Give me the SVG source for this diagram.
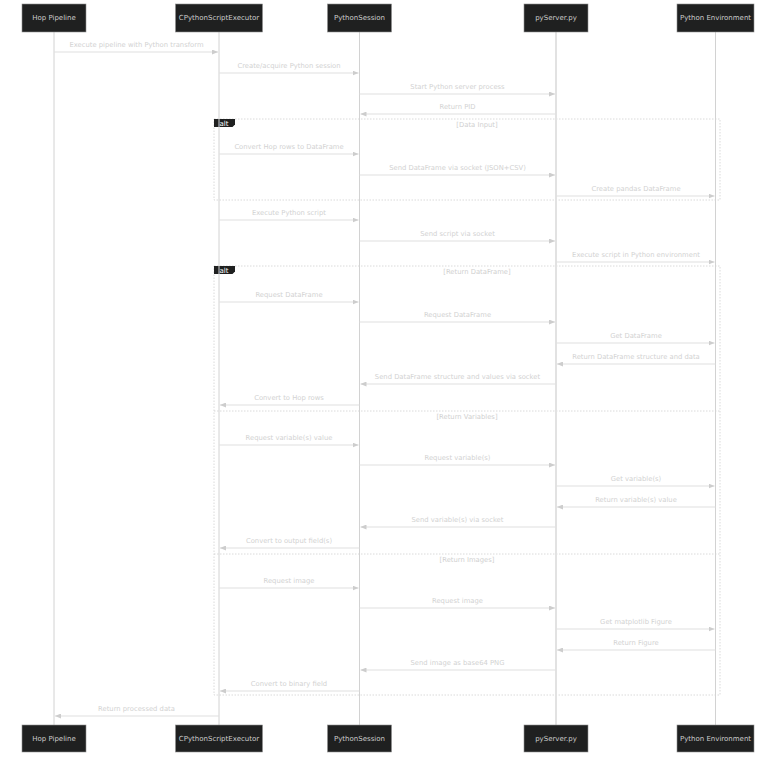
<svg xmlns="http://www.w3.org/2000/svg" width="784" height="766" viewBox="0 0 784 766">
<style>
text{font-family:"DejaVu Sans","Liberation Sans",sans-serif}
.actor rect{fill:#1f2020;stroke:#8f8f8f;stroke-width:0.6}
.actor text{fill:#cccccc;font-size:7px;text-anchor:middle;dominant-baseline:central}
.life{stroke:#d2d2d2;stroke-width:1}
.msg line{stroke:#e0e0e0;stroke-width:1.2;marker-end:url(#ah)}
.msg text{fill:#d2d2d2;font-size:6.8px;text-anchor:middle}
.frame{fill:none;stroke:#d0d0d0;stroke-width:0.8;stroke-dasharray:1.5 1.5}
.sect{fill:#d0d0d0;font-size:6.8px;text-anchor:middle}
.lbl{fill:#1f2020}
.lblt{fill:#ffffff;font-size:7px;text-anchor:middle}
</style>
<defs>
<marker id="ah" markerUnits="userSpaceOnUse" markerWidth="6" markerHeight="5" refX="6" refY="2.5" orient="auto">
<path d="M0,0 L6,2.5 L0,5 z" fill="#cdcdcd"/>
</marker>
</defs>
<rect width="784" height="766" fill="#ffffff"/>

<g id="frames">
<rect class="frame" x="214" y="119" width="506" height="81"/>
<polygon class="lbl" points="214,119 235,119 235,124.5 232.5,127 214,127"/>
<text class="lblt" x="224" y="125.5">alt</text>
<text class="sect" x="477" y="126.5">[Data Input]</text>

<rect class="frame" x="214" y="266" width="506" height="429"/>
<polygon class="lbl" points="214,266 235,266 235,271.5 232.5,274 214,274"/>
<text class="lblt" x="224" y="272.5">alt</text>
<text class="sect" x="477" y="273.5">[Return DataFrame]</text>
<line class="frame" x1="214" y1="411" x2="720" y2="411"/>
<text class="sect" x="467" y="418.5">[Return Variables]</text>
<line class="frame" x1="214" y1="554" x2="720" y2="554"/>
<text class="sect" x="467" y="561.5">[Return Images]</text>
</g>

<g id="hop" class="actor">
<line class="life" x1="54" y1="32" x2="54" y2="725"/>
<rect x="22" y="4" width="64" height="28"/>
<text x="54" y="18">Hop Pipeline</text>
<rect x="22" y="725" width="64" height="27"/>
<text x="54" y="738.5">Hop Pipeline</text>
</g>
<g id="executor" class="actor">
<line class="life" x1="219" y1="32" x2="219" y2="725"/>
<rect x="175.5" y="4" width="87" height="28"/>
<text x="219" y="18">CPythonScriptExecutor</text>
<rect x="175.5" y="725" width="87" height="27"/>
<text x="219" y="738.5">CPythonScriptExecutor</text>
</g>
<g id="session" class="actor">
<line class="life" x1="359.5" y1="32" x2="359.5" y2="725"/>
<rect x="327.5" y="4" width="64" height="28"/>
<text x="359.5" y="18">PythonSession</text>
<rect x="327.5" y="725" width="64" height="27"/>
<text x="359.5" y="738.5">PythonSession</text>
</g>
<g id="pyserver" class="actor">
<line x1="556" y1="32" x2="556" y2="725" stroke="#e2e2e2" stroke-width="2"/>
<rect x="524" y="4" width="64" height="28"/>
<text x="556" y="18">pyServer.py</text>
<rect x="524" y="725" width="64" height="27"/>
<text x="556" y="738.5">pyServer.py</text>
</g>
<g id="pyenv" class="actor">
<line class="life" x1="715.5" y1="32" x2="715.5" y2="725"/>
<rect x="677" y="4" width="77" height="28"/>
<text x="715.5" y="18">Python Environment</text>
<rect x="677" y="725" width="77" height="27"/>
<text x="715.5" y="738.5">Python Environment</text>
</g>

<g id="connectors" class="msg">
<line x1="54" y1="52" x2="218" y2="52"/><text x="136.5" y="46.5">Execute pipeline with Python transform</text>
<line x1="219" y1="73" x2="358.5" y2="73"/><text x="289" y="67.5">Create/acquire Python session</text>
<line x1="359.5" y1="94" x2="555" y2="94"/><text x="457.5" y="88.5">Start Python server process</text>
<line x1="556" y1="114" x2="360.5" y2="114"/><text x="457.5" y="108.5">Return PID</text>
<line x1="219" y1="154" x2="358.5" y2="154"/><text x="289" y="148.5">Convert Hop rows to DataFrame</text>
<line x1="359.5" y1="175" x2="555" y2="175"/><text x="457.5" y="169.5">Send DataFrame via socket (JSON+CSV)</text>
<line x1="556" y1="196" x2="714.5" y2="196"/><text x="636" y="190.5">Create pandas DataFrame</text>
<line x1="219" y1="220" x2="358.5" y2="220"/><text x="289" y="214.5">Execute Python script</text>
<line x1="359.5" y1="241" x2="555" y2="241"/><text x="457.5" y="235.5">Send script via socket</text>
<line x1="556" y1="262" x2="714.5" y2="262"/><text x="636" y="256.5">Execute script in Python environment</text>
<line x1="219" y1="302" x2="358.5" y2="302"/><text x="289" y="296.5">Request DataFrame</text>
<line x1="359.5" y1="322" x2="555" y2="322"/><text x="457.5" y="316.5">Request DataFrame</text>
<line x1="556" y1="343" x2="714.5" y2="343"/><text x="636" y="337.5">Get DataFrame</text>
<line x1="715.5" y1="364" x2="557" y2="364"/><text x="636" y="358.5">Return DataFrame structure and data</text>
<line x1="556" y1="384" x2="360.5" y2="384"/><text x="457.5" y="378.5">Send DataFrame structure and values via socket</text>
<line x1="359.5" y1="405" x2="220" y2="405"/><text x="289" y="399.5">Convert to Hop rows</text>
<line x1="219" y1="445" x2="358.5" y2="445"/><text x="289" y="439.5">Request variable(s) value</text>
<line x1="359.5" y1="465" x2="555" y2="465"/><text x="457.5" y="459.5">Request variable(s)</text>
<line x1="556" y1="486" x2="714.5" y2="486"/><text x="636" y="480.5">Get variable(s)</text>
<line x1="715.5" y1="507" x2="557" y2="507"/><text x="636" y="501.5">Return variable(s) value</text>
<line x1="556" y1="527" x2="360.5" y2="527"/><text x="457.5" y="521.5">Send variable(s) via socket</text>
<line x1="359.5" y1="548" x2="220" y2="548"/><text x="289" y="542.5">Convert to output field(s)</text>
<line x1="219" y1="588" x2="358.5" y2="588"/><text x="289" y="582.5">Request image</text>
<line x1="359.5" y1="608" x2="555" y2="608"/><text x="457.5" y="602.5">Request image</text>
<line x1="556" y1="629" x2="714.5" y2="629"/><text x="636" y="623.5">Get matplotlib Figure</text>
<line x1="715.5" y1="650" x2="557" y2="650"/><text x="636" y="644.5">Return Figure</text>
<line x1="556" y1="670" x2="360.5" y2="670"/><text x="457.5" y="664.5">Send image as base64 PNG</text>
<line x1="359.5" y1="691" x2="220" y2="691"/><text x="289" y="685.5">Convert to binary field</text>
<line x1="219" y1="716" x2="55" y2="716"/><text x="136.5" y="710.5">Return processed data</text>
</g>
</svg>
